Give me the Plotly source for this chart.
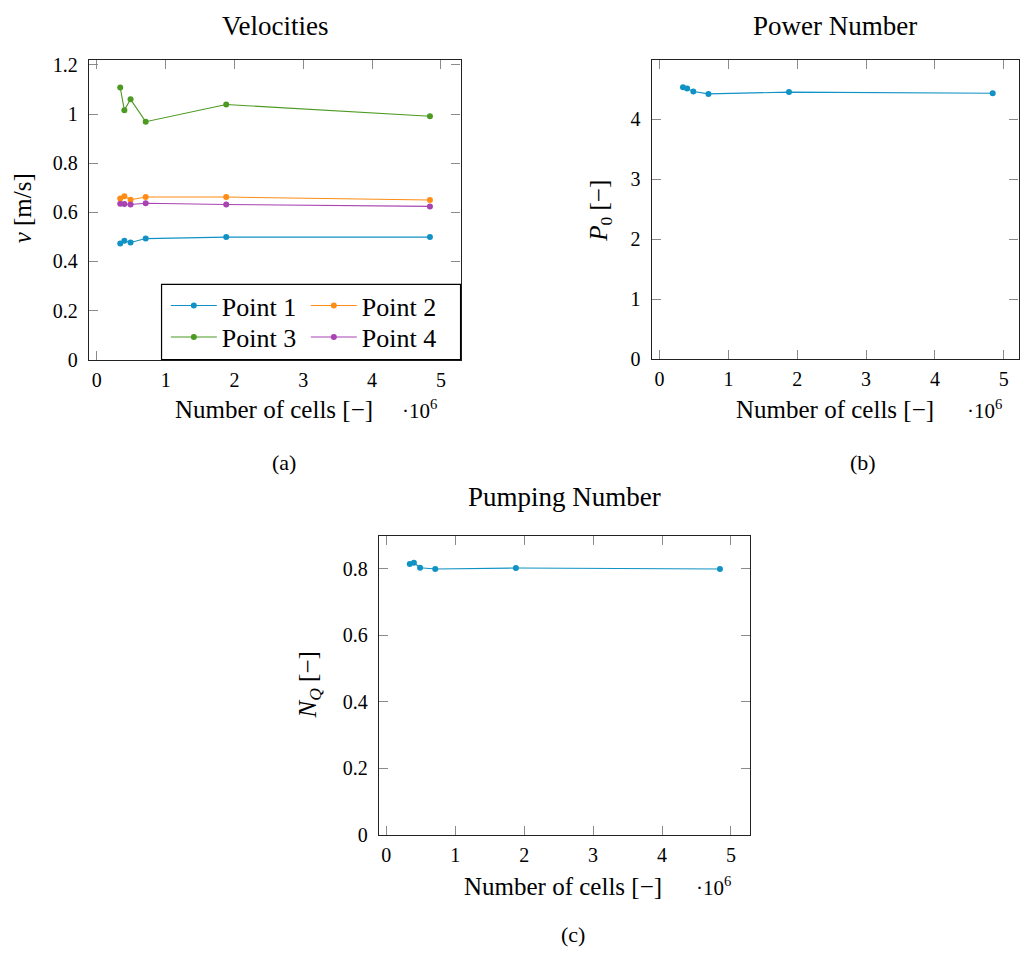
import plotly.graph_objects as go

# ---------------- data ----------------
cells_millions = [0.34, 0.40, 0.49, 0.71, 1.88, 4.84]
v_point1 = [0.473, 0.484, 0.477, 0.493, 0.499, 0.499]
v_point2 = [0.656, 0.665, 0.651, 0.662, 0.662, 0.650]
v_point3 = [1.108, 1.016, 1.060, 0.969, 1.039, 0.991]
v_point4 = [0.635, 0.634, 0.632, 0.637, 0.632, 0.624]
power_number = [4.53, 4.51, 4.46, 4.42, 4.45, 4.43]
pumping_number = [0.815, 0.819, 0.804, 0.800, 0.803, 0.800]

series_names = ["Point 1", "Point 2", "Point 3", "Point 4"]
x_ticks = [0, 1, 2, 3, 4, 5]
x_ticktext = ["0", "1", "2", "3", "4", "5"]
v_ticks = [0, 0.2, 0.4, 0.6, 0.8, 1.0, 1.2]
v_ticktext = ["0", "0.2", "0.4", "0.6", "0.8", "1", "1.2"]
p_ticks = [0, 1, 2, 3, 4]
p_ticktext = ["0", "1", "2", "3", "4"]
q_ticks = [0, 0.2, 0.4, 0.6, 0.8]
q_ticktext = ["0", "0.2", "0.4", "0.6", "0.8"]

# ---------------- style ----------------
W, H = 1020, 965
FONT = "Liberation Serif"
C_BLUE = "#1192c4"
C_ORANGE = "#ff8c14"
C_GREEN = "#4c9a22"
C_PURPLE = "#a943b1"

def px(x):
    return x / W

def py(y):
    return 1 - y / H

fig = go.Figure()

vel_series = [v_point1, v_point2, v_point3, v_point4]
vel_colors = [C_BLUE, C_ORANGE, C_GREEN, C_PURPLE]
vel_legends = ["legend", "legend", "legend2", "legend2"]
for name, vals, col, lg in zip(series_names, vel_series, vel_colors, vel_legends):
    fig.add_trace(go.Scatter(
        x=cells_millions, y=vals, name=name, mode="lines+markers",
        line=dict(color=col, width=1.1), marker=dict(color=col, size=6),
        xaxis="x", yaxis="y", legend=lg))

fig.add_trace(go.Scatter(
    x=cells_millions, y=power_number, mode="lines+markers", showlegend=False,
    line=dict(color=C_BLUE, width=1.1), marker=dict(color=C_BLUE, size=6),
    xaxis="x2", yaxis="y2"))

fig.add_trace(go.Scatter(
    x=cells_millions, y=pumping_number, mode="lines+markers", showlegend=False,
    line=dict(color=C_BLUE, width=1.1), marker=dict(color=C_BLUE, size=6),
    xaxis="x3", yaxis="y3"))

tickfont = dict(family=FONT, size=20, color="black")

def axis_common(standoff, **kw):
    d = dict(showgrid=False, zeroline=False, showline=True, linecolor="#222",
             linewidth=1.2, mirror="ticks", ticks="inside", ticklen=9,
             tickwidth=1, tickcolor="#8a8a8a", tickfont=tickfont,
             tickmode="array", ticklabelstandoff=standoff)
    d.update(kw)
    return d

legend_font = dict(family=FONT, size=26, color="black")

fig.update_layout(
    width=W, height=H,
    margin=dict(l=0, r=0, t=0, b=0),
    paper_bgcolor="white", plot_bgcolor="white",
    xaxis=axis_common(2, domain=[px(89), px(461)], range=[-0.115, 5.285],
                      tickvals=x_ticks, ticktext=x_ticktext, anchor="y"),
    yaxis=axis_common(6, domain=[py(360), py(55)], range=[0, 1.22],
                      tickvals=v_ticks, ticktext=v_ticktext, anchor="x"),
    xaxis2=axis_common(2, domain=[px(652.3), px(1019.5)], range=[-0.115, 5.215],
                       tickvals=x_ticks, ticktext=x_ticktext, anchor="y2"),
    yaxis2=axis_common(6, domain=[py(359.3), py(55.3)], range=[0, 4.98],
                       tickvals=p_ticks, ticktext=p_ticktext, anchor="x2"),
    xaxis3=axis_common(2, domain=[px(379.3), px(751)], range=[-0.107, 5.28],
                       tickvals=x_ticks, ticktext=x_ticktext, anchor="y3"),
    yaxis3=axis_common(6, domain=[py(843.5), py(539.3)], range=[0, 0.90],
                       tickvals=q_ticks, ticktext=q_ticktext, anchor="x3"),
    legend=dict(orientation="h", x=px(166), xanchor="left", y=py(305), yanchor="middle",
                font=legend_font, bgcolor="rgba(0,0,0,0)",
                itemwidth=46, entrywidth=79, entrywidthmode="pixels", tracegroupgap=0),
    legend2=dict(orientation="h", x=px(166), xanchor="left", y=py(337), yanchor="middle",
                 font=legend_font, bgcolor="rgba(0,0,0,0)",
                 itemwidth=46, entrywidth=79, entrywidthmode="pixels", tracegroupgap=0),
    shapes=[dict(type="rect", xref="paper", yref="paper",
                 x0=px(161.7), x1=px(461), y0=py(360), y1=py(283.3),
                 line=dict(color="black", width=1.2), fillcolor="white", layer="above")],
)

annotations = []

def ann(text, x, y, size, angle=0):
    annotations.append(dict(text=text, x=px(x), y=py(y), xref="paper", yref="paper",
                            showarrow=False, xanchor="center", yanchor="middle",
                            textangle=angle, font=dict(family=FONT, size=size, color="black")))

# titles
ann("Velocities", 275, 20, 27)
ann("Power Number", 836, 20, 27)
ann("Pumping Number", 565, 500, 27)
# x labels and scale
ann("Number of cells [\u2212]", 274.5, 411, 25)
ann("\u00b710<sup>6</sup>", 420, 411, 21)
ann("Number of cells [\u2212]", 836, 411, 25)
ann("\u00b710<sup>6</sup>", 985, 411, 21)
ann("Number of cells [\u2212]", 564, 896, 25)
ann("\u00b710<sup>6</sup>", 714, 896, 21)
# y labels
ann("<i>v</i> [m/s]", 22, 206, 25, -90)
ann("<i>P</i><sub>0</sub> [\u2212]", 601, 208, 25, -90)
ann("<i>N</i><sub><i>Q</i></sub> [\u2212]", 310, 691, 25, -90)
# sub captions
ann("(a)", 284, 465, 22)
ann("(b)", 864, 465, 22)
ann("(c)", 574, 945, 22)

fig.update_layout(annotations=annotations)

fig.write_html("out.html")
